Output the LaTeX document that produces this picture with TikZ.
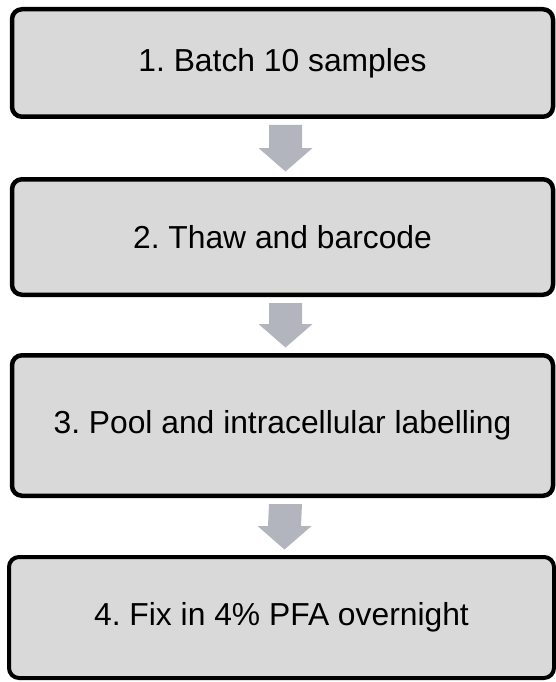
\documentclass[tikz,border=0pt]{standalone}
\usepackage{fontspec}
\setmainfont{Liberation Sans}
\usetikzlibrary{calc}
\definecolor{boxgray}{HTML}{D9D9D9}
\definecolor{arrowgray}{RGB}{178,181,189}
\tikzset{
  stepbox/.style={draw=black, fill=boxgray, rounded corners=10pt, line width=4.5pt,
    minimum width=541pt, inner sep=0pt, font=\fontsize{31.8}{36}\selectfont\frenchspacing, text=black},
  flowarrow/.style={fill=arrowgray, draw=none}
}
\newcommand{\blockarrow}[2]{%
  \fill[flowarrow] ($(#1.south)+(-13.5pt,-6pt)$) -- ($(#1.south)+(19.5pt,-6pt)$)
    -- ($(#2.north)+(19.5pt,29pt)$) -- ($(#2.north)+(30pt,29pt)$)
    -- ($(#2.north)+(3pt,5.5pt)$) -- ($(#2.north)+(-24pt,29pt)$)
    -- ($(#2.north)+(-13.5pt,29pt)$) -- cycle;}
\begin{document}
\begin{tikzpicture}[x=1pt,y=1pt]
\useasboundingbox (0,0) rectangle (556,-682);
\node[stepbox, minimum height=107.5pt] (b1) at (282.5,-63) {1. Batch 10 samples};
\node[stepbox, minimum height=115.5pt] (b2) at (282.5,-237) {2. Thaw and barcode};
\node[stepbox, minimum height=140.5pt] (b3) at (282.5,-425.5) {3. Pool and intracellular labelling};
\node[stepbox, line width=4pt, minimum width=545pt, minimum height=121pt] (b4) at (281.5,-617.5) {4. Fix in 4\% PFA overnight};
\blockarrow{b1}{b2}
\blockarrow{b2}{b3}
\blockarrow{b3}{b4}
\end{tikzpicture}
\end{document}
